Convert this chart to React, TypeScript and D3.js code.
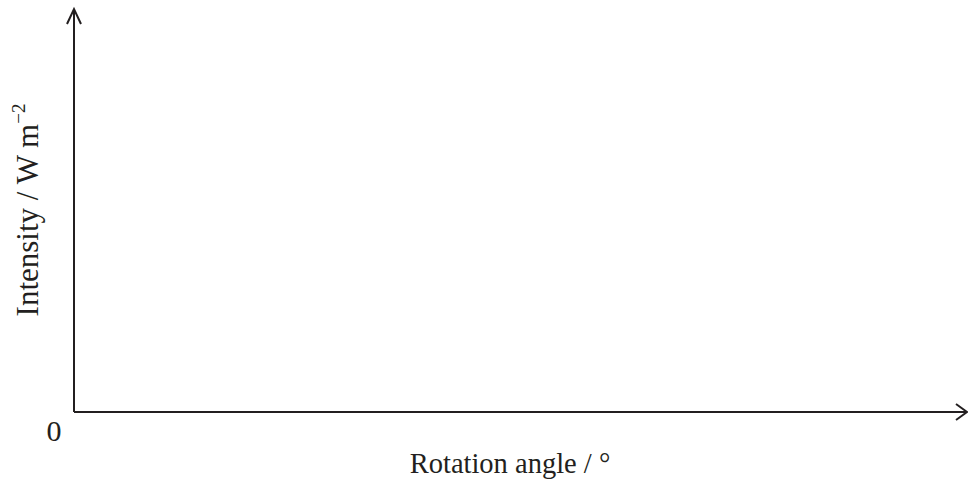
import * as d3 from "d3";
import { useRef, useEffect } from "react";

const xDomain = [0, 1];
const yDomain = [0, 1];
const originLabel = "0";
const xTitle = "Rotation angle / °";
const yTitleMain = "Intensity / W m";
const yTitleSup = "−2";

export default function App() {
  const ref = useRef<SVGSVGElement>(null);

  useEffect(() => {
    const width = 968;
    const height = 481;
    const svg = d3.select(ref.current);
    svg.selectAll("*").remove();
    svg.attr("width", width).attr("height", height);

    const x = d3.scaleLinear().domain(xDomain).range([74, 967]);
    const y = d3.scaleLinear().domain(yDomain).range([412, 9]);
    const font = "'Liberation Serif', 'Times New Roman', serif";
    const ink = "#231f20";

    // axes
    svg.append("line")
      .attr("x1", x(0)).attr("y1", y(0)).attr("x2", x(1)).attr("y2", y(0))
      .attr("stroke", ink).attr("stroke-width", 2);
    svg.append("line")
      .attr("x1", x(0)).attr("y1", y(0)).attr("x2", x(0)).attr("y2", y(1))
      .attr("stroke", ink).attr("stroke-width", 2);

    // open arrow heads
    const line = d3.line();
    svg.append("path")
      .attr("d", line([[x(1) - 11, y(0) - 8], [x(1), y(0)], [x(1) - 11, y(0) + 8]]))
      .attr("fill", "none").attr("stroke", ink).attr("stroke-width", 2);
    svg.append("path")
      .attr("d", line([[x(0) - 7, y(1) + 15], [x(0), y(1)], [x(0) + 7, y(1) + 15]]))
      .attr("fill", "none").attr("stroke", ink).attr("stroke-width", 2);

    svg.append("text")
      .text(originLabel)
      .attr("x", 54).attr("y", 441)
      .attr("text-anchor", "middle")
      .style("font-family", font).style("font-size", "30px").style("fill", ink);

    svg.append("text")
      .text(xTitle)
      .attr("x", 510).attr("y", 473)
      .attr("text-anchor", "middle")
      .style("font-family", font).style("font-size", "28.5px").style("fill", ink);

    const yt = svg.append("text")
      .attr("transform", "translate(38, 210) rotate(-90)")
      .attr("text-anchor", "middle")
      .style("font-family", font).style("font-size", "31px").style("fill", ink);
    yt.append("tspan").text(yTitleMain);
    yt.append("tspan").text(yTitleSup)
      .attr("dy", -13)
      .style("font-size", "19px");
  }, []);

  return <svg ref={ref} style={{ position: "absolute", left: 0, top: 0, background: "#fff" }}></svg>;
}
